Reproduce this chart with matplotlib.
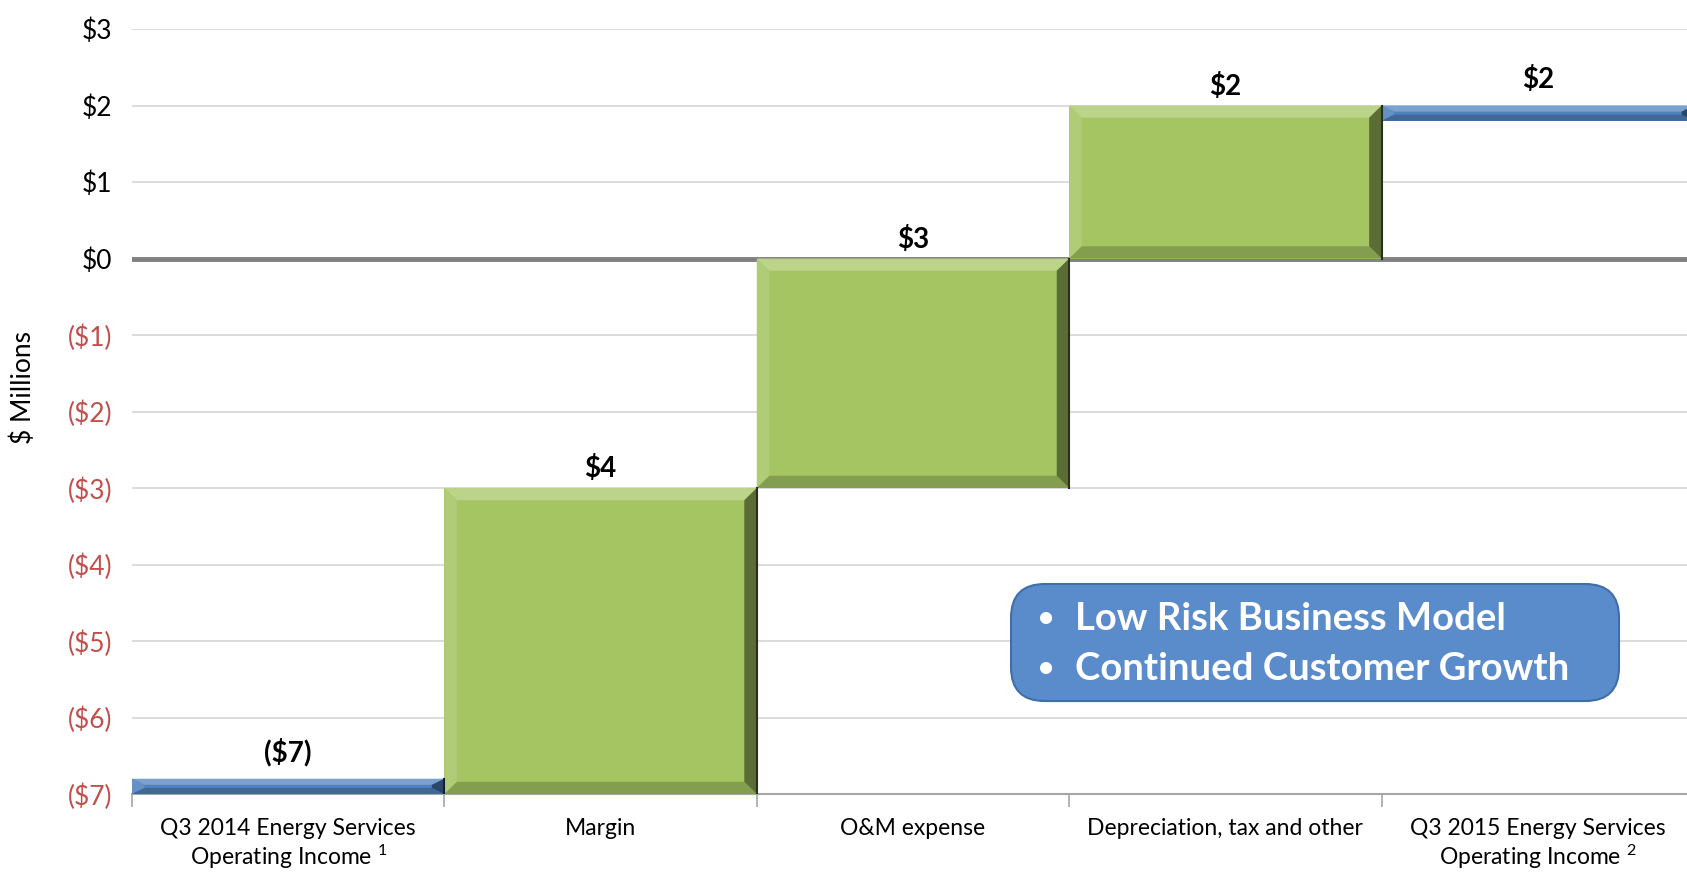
import matplotlib.pyplot as plt
from matplotlib.patches import Rectangle, Polygon, FancyBboxPatch
import matplotlib.colors as mcolors

plt.rcParams['font.family'] = ['Lato', 'DejaVu Sans']
plt.rcParams['mathtext.fontset'] = 'custom'
plt.rcParams['mathtext.rm'] = 'Lato'
plt.rcParams['mathtext.it'] = 'Lato'

categories = ['Q3 2014 Energy Services\nOperating Income $^{1}$', 'Margin', 'O&M expense',
              'Depreciation, tax and other', 'Q3 2015 Energy Services\nOperating Income $^{2}$']
bar_bottom = [-7.0, -7.0, -3.0, 0.0, 1.8]
bar_top = [-6.8, -3.0, 0.0, 2.0, 2.0]
bar_labels = ['($7)', '$4', '$3', '$2', '$2']
is_total = [True, False, False, False, True]
y_ticks = [3, 2, 1, 0, -1, -2, -3, -4, -5, -6, -7]
box_lines = ['Low Risk Business Model', 'Continued Customer Growth']

GREEN = '#A5C563'
BLUE = '#4F81BD'
RED = '#C0504D'


def shade(color, f):
    r, g, b = mcolors.to_rgb(color)
    if f > 1:
        return (r + (1 - r) * (f - 1), g + (1 - g) * (f - 1), b + (1 - b) * (f - 1))
    return (r * f, g * f, b * f)


def bevel_bar(ax, x0, x1, y0, y1, color):
    bx = 0.04
    by = min(0.16, (y1 - y0) / 2.5)
    ax.add_patch(Rectangle((x0, y0), x1 - x0, y1 - y0, facecolor=color, edgecolor='none', zorder=3))
    # top light, left light, bottom dark, right dark
    ax.add_patch(Polygon([(x0, y1), (x1, y1), (x1 - bx, y1 - by), (x0 + bx, y1 - by)],
                         facecolor=shade(color, 1.25), edgecolor='none', zorder=4))
    ax.add_patch(Polygon([(x0, y0), (x0, y1), (x0 + bx, y1 - by), (x0 + bx, y0 + by)],
                         facecolor=shade(color, 1.12), edgecolor='none', zorder=4))
    ax.add_patch(Polygon([(x0, y0), (x1, y0), (x1 - bx, y0 + by), (x0 + bx, y0 + by)],
                         facecolor=shade(color, 0.8), edgecolor='none', zorder=4))
    ax.add_patch(Polygon([(x1, y0), (x1, y1), (x1 - bx, y1 - by), (x1 - bx, y0 + by)],
                         facecolor=shade(color, 0.55), edgecolor='none', zorder=4))
    ax.plot([x1, x1], [y0, y1], color=shade(color, 0.25), lw=1.5, zorder=5)


fig = plt.figure(figsize=(16.87, 8.74), dpi=100)
ax = fig.add_axes([0.0782, 0.0915, 0.926, 0.8753])

for i in range(len(categories)):
    color = BLUE if is_total[i] else GREEN
    bevel_bar(ax, i - 0.5, i + 0.5, bar_bottom[i], bar_top[i], color)
    off = 9 if is_total[i] else 4
    ax.annotate(bar_labels[i], (i, bar_top[i]), xytext=(0, off), textcoords='offset points',
                ha='center', va='bottom', fontsize=20, fontweight='bold', color='black', zorder=6)

ax.set_xlim(-0.5, 4.5)
ax.set_ylim(-7, 3)
ax.set_yticks(y_ticks)
ax.set_yticklabels([f'${v}' if v >= 0 else f'(${-v})' for v in y_ticks])
for lab, v in zip(ax.get_yticklabels(), y_ticks):
    lab.set_color('black' if v >= 0 else RED)
ax.tick_params(axis='y', length=0, labelsize=19, pad=14)

ax.set_xticks(range(len(categories)))
ax.set_xticklabels(categories, fontsize=16.5, linespacing=1.2)
ax.set_xticks([i - 0.5 for i in range(len(categories) + 1)], minor=True)
ax.tick_params(axis='x', which='major', length=0, pad=17)
ax.tick_params(axis='x', which='minor', length=9, color='#A6A6A6', width=1.2)

ax.grid(axis='y', color='#D9D9D9', lw=1.3, zorder=0)
ax.axhline(0, color='#808080', lw=3.5, zorder=2)
for s in ['top', 'right', 'left']:
    ax.spines[s].set_visible(False)
ax.spines['bottom'].set_color('#A6A6A6')
ax.spines['bottom'].set_linewidth(1.5)
ax.spines['bottom'].set_zorder(2)

fig.text(0.014, 0.557, '$ Millions', rotation=90, ha='center', va='center', fontsize=19)

# callout box
box = FancyBboxPatch((0.5993, 0.1979), 0.3604, 0.1339, transform=fig.transFigure,
                     boxstyle='round,pad=0,rounding_size=0.02', facecolor='#5A8BCB',
                     edgecolor='#3F6EA8', lw=1.5, zorder=10, mutation_aspect=1.93)
fig.patches.append(box)
for k, line in enumerate(box_lines):
    yy = 0.292 - k * 0.057
    fig.text(0.620, yy, '\u2022', color='white', fontsize=20, fontweight='bold',
             ha='center', va='center', zorder=11)
    fig.text(0.637, yy, line, color='white', fontsize=27.5, fontweight='bold',
             ha='left', va='center', zorder=11)

fig.savefig('out.png', dpi=100)
